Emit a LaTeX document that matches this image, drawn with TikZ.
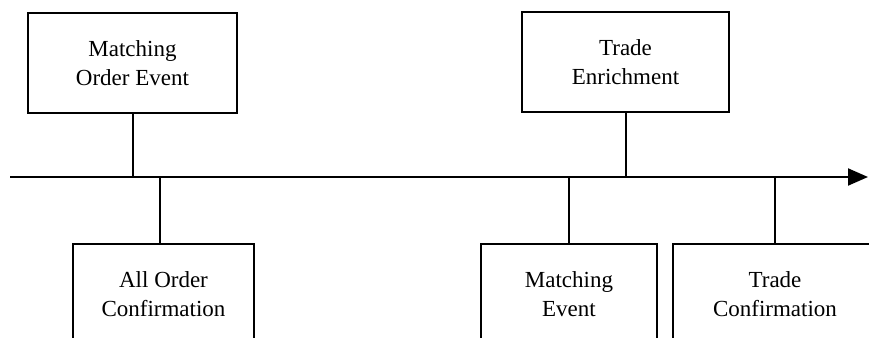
\documentclass[tikz,border=0pt]{standalone}
\usepackage{fontspec}
\setmainfont{Liberation Serif}
\usetikzlibrary{arrows.meta}

\begin{document}
\begin{tikzpicture}[x=1pt, y=-1pt, line width=2pt,
    event/.style={draw, align=center, minimum height=100pt, inner sep=0pt,
                  font=\fontsize{23}{29}\selectfont}]
    \clip (0,0) rectangle (869,337);

    \node[event, minimum width=209pt] at (132.5,63)  (moe) {Matching\\Order Event};
    \node[event, minimum width=207pt] at (625.5,62)  (te)  {Trade\\Enrichment};
    \node[event, minimum width=181pt] at (163.5,294) (aoc) {All Order\\Confirmation};
    \node[event, minimum width=176pt] at (569,294)   (me)  {Matching\\Event};
    \node[event, minimum width=204pt] at (775,294)   (tc)  {Trade\\Confirmation};

    \coordinate (start) at (10,177);
    \coordinate (end)   at (868,177);
    \coordinate (t1) at (moe.south |- start);
    \coordinate (t2) at (te.south |- start);
    \coordinate (t3) at (160,177);
    \coordinate (t4) at (me.north |- start);
    \coordinate (t5) at (tc.north |- start);

    \draw[-{Triangle[length=20pt, width=17pt]}] (start) -- (end);
    \draw (moe.south) -- (t1);
    \draw (te.south) -- (t2);
    \draw (t3) -- (t3 |- aoc.north);
    \draw (t4) -- (me.north);
    \draw (t5) -- (tc.north);
\end{tikzpicture}
\end{document}
